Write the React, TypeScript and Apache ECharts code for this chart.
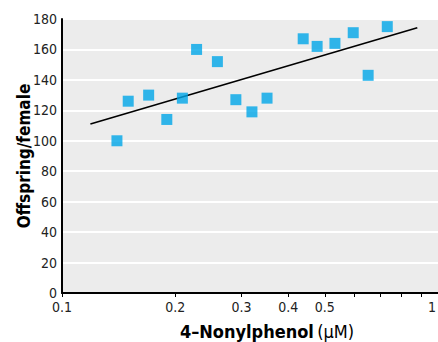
import React, { useEffect, useRef } from "react";
import * as echarts from "echarts";

const concentrations = [0.140, 0.150, 0.170, 0.190, 0.209, 0.228, 0.259, 0.290, 0.320, 0.351, 0.438, 0.477, 0.532, 0.595, 0.652, 0.733];
const offspring = [100, 126, 130, 114, 128, 160, 152, 127, 119, 128, 167, 162, 164, 171, 143, 175];
const fitX = [0.119, 0.881];
const fitY = [111, 174.3];
const xTickValues = [0.1, 0.2, 0.3, 0.4, 0.5, 0.6, 0.7, 0.8, 0.9, 1];
const xLabelValues = [0.1, 0.2, 0.3, 0.4, 0.5, 1];
const xLabelTexts = ["0.1", "0.2", "0.3", "0.4", "0.5", "1"];

const FONT = "'Liberation Sans Narrow', 'DejaVu Sans Condensed', 'Arial Narrow', sans-serif";

export default function App() {
  const ref = useRef<HTMLDivElement>(null);
  useEffect(() => {
    if (!ref.current) return;
    const chart = echarts.init(ref.current, null, { renderer: "svg" });
    const labelFor = (v: number) => {
      let best = 0;
      let bd = Infinity;
      xLabelValues.forEach((lv, i) => {
        const d = Math.abs(Math.log10(lv) - Math.log10(v));
        if (d < bd) { bd = d; best = i; }
      });
      return best === xLabelValues.length - 1 ? `{r|${xLabelTexts[best]}}` : xLabelTexts[best];
    };
    chart.setOption({
      animation: false,
      grid: {
        left: 62,
        top: 19,
        right: 0,
        bottom: 49,
        containLabel: false,
        outerBoundsMode: "none",
        show: true,
        backgroundColor: "#ececec",
        borderWidth: 0,
      },
      xAxis: {
        type: "log",
        logBase: 10,
        min: 0.1,
        max: 1,
        name: "{b|4–Nonylphenol} {n|(μM)}",
        nameLocation: "middle",
        nameGap: 29,
        nameMoveOverlap: false,
        nameTextStyle: {
          padding: [0, 0, 0, 34],
          rich: {
            b: { fontFamily: FONT, fontWeight: "bold", fontSize: 18, color: "#000" },
            n: { fontFamily: FONT, fontWeight: "normal", fontSize: 18, color: "#000" },
          },
        },
        axisLine: { show: true, lineStyle: { color: "#000", width: 2 } },
        axisTick: {
          show: true,
          length: 4,
          inside: false,
          customValues: xTickValues,
          lineStyle: { color: "#000", width: 1 },
        },
        axisLabel: {
          customValues: xLabelValues,
          formatter: (v: number) => labelFor(v),
          fontFamily: FONT,
          fontSize: 14,
          color: "#222",
          margin: 7,
          hideOverlap: false,
          rich: {
            r: { fontFamily: FONT, fontSize: 14, color: "#222", padding: [0, 12, 0, 0] },
          },
        },
        splitLine: { show: false },
        minorTick: { show: false },
      },
      yAxis: {
        type: "value",
        min: 0,
        max: 180,
        interval: 20,
        name: "Offspring/female",
        nameLocation: "middle",
        nameGap: 30,
        nameMoveOverlap: false,
        nameRotate: 90,
        nameTextStyle: { fontFamily: FONT, fontWeight: "bold", fontSize: 17, color: "#000" },
        axisLine: { show: true, lineStyle: { color: "#000", width: 2 } },
        axisTick: { show: false },
        axisLabel: { fontFamily: FONT, fontSize: 14, color: "#222", margin: 5 },
        splitLine: { show: true, lineStyle: { color: "#ffffff", width: 2 } },
      },
      series: [
        {
          type: "line",
          data: fitX.map((x, i) => [x, fitY[i]]),
          symbol: "none",
          lineStyle: { color: "#000", width: 1.6 },
          z: 2,
        },
        {
          type: "scatter",
          data: concentrations.map((x, i) => [x, offspring[i]]),
          symbol: "rect",
          symbolSize: 11,
          itemStyle: { color: "#00a6e8" },
          z: 3,
        },
      ],
    });
    return () => chart.dispose();
  }, []);
  return <div ref={ref} style={{ width: 438, height: 342, position: "absolute", left: 0, top: 0 }} />;
}
